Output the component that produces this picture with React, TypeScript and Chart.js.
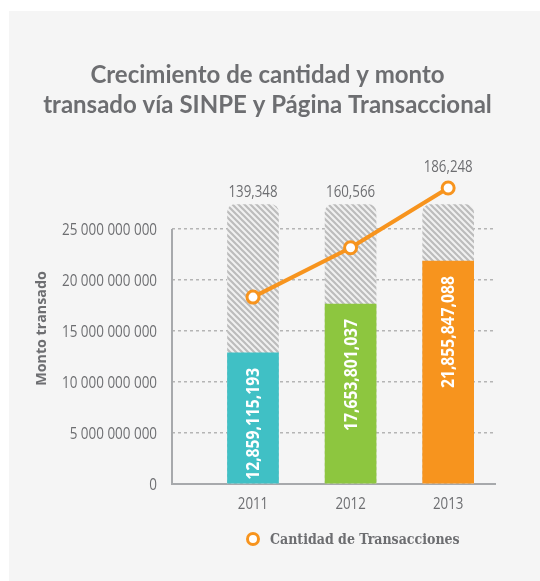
import { useEffect, useRef } from 'react';
import { Chart, registerables } from 'chart.js';

Chart.register(...registerables);

// ---- data ----
const years = [2011, 2012, 2013];
const montoTransado = [12859115193, 17653801037, 21855847088];
const cantidadTransacciones = [139348, 160566, 186248];
const fondo = [27400000000, 27400000000, 27400000000];
const yTickValues = [0, 5000000000, 10000000000, 15000000000, 20000000000, 25000000000];
const barColors = ['#40c0c5', '#8dc63f', '#f7941e'];

const titleLines = ['Crecimiento de cantidad y monto', 'transado vía SINPE y Página Transaccional'];
const yAxisTitle = 'Monto transado';
const legendLabel = 'Cantidad de Transacciones';

const GRAY = '#6d6e71';
const ORANGE = '#f7941e';
const OPEN = "'Open Sans', 'Noto Sans', sans-serif";
const TITLE_FONT = "Lato, 'Noto Sans', sans-serif";

const fmtComma = (v: number) => v.toLocaleString('en-US');
const fmtSpace = (v: number) => String(v).replace(/\B(?=(\d{3})+(?!\d))/g, ' ');

function makeHatch(): CanvasPattern | string {
  const s = 6;
  const c = document.createElement('canvas');
  c.width = s;
  c.height = s;
  const g = c.getContext('2d');
  if (!g) return '#ddd';
  g.fillStyle = '#f1f1f1';
  g.fillRect(0, 0, s, s);
  g.strokeStyle = '#bcbcbc';
  g.lineWidth = 2.2;
  g.beginPath();
  for (const k of [-s, 0, s]) {
    g.moveTo(-1, k - 1);
    g.lineTo(s + 1, k + s + 1);
  }
  g.stroke();
  const p = g.createPattern(c, 'repeat');
  return p || '#ddd';
}

type TextOpts = {
  size: number;
  weight?: string;
  color: string;
  align: CanvasTextAlign;
  baseline: CanvasTextBaseline;
  sx: number;
  rotate?: number;
};

function drawText(ctx: CanvasRenderingContext2D, text: string, x: number, y: number, o: TextOpts) {
  ctx.save();
  ctx.translate(x, y);
  if (o.rotate) ctx.rotate(o.rotate);
  ctx.scale(o.sx, 1);
  ctx.font = `${o.weight || 'normal'} ${o.size}px ${OPEN}`;
  ctx.fillStyle = o.color;
  ctx.textAlign = o.align;
  ctx.textBaseline = o.baseline;
  ctx.fillText(text, 0, 0);
  ctx.restore();
}

const overlayPlugin = {
  id: 'overlay',
  afterDatasetsDraw(chart: any) {
    const { ctx, chartArea, scales } = chart;
    const y = scales.y;
    const x = scales.x;
    ctx.save();
    // y axis line (only up to the last tick)
    ctx.strokeStyle = '#a7a9ac';
    ctx.lineWidth = 2;
    ctx.beginPath();
    ctx.moveTo(chartArea.left, y.getPixelForValue(0) + 1);
    ctx.lineTo(chartArea.left, y.getPixelForValue(yTickValues[yTickValues.length - 1]));
    ctx.stroke();
    ctx.restore();

    // y tick labels
    yTickValues.forEach((v) => {
      drawText(ctx, fmtSpace(v), chartArea.left - 15, y.getPixelForValue(v) + 1, {
        size: 16, color: GRAY, align: 'right', baseline: 'middle', sx: 0.84,
      });
    });

    // x tick labels
    years.forEach((yr) => {
      drawText(ctx, String(yr), x.getPixelForValue(yr), chartArea.bottom + 20, {
        size: 16, color: GRAY, align: 'center', baseline: 'middle', sx: 0.83,
      });
    });

    // y axis title
    drawText(ctx, yAxisTitle, 33, (chartArea.top + chartArea.bottom) / 2, {
      size: 15, weight: 'bold', color: GRAY, align: 'center', baseline: 'middle', sx: 0.95, rotate: -Math.PI / 2,
    });

    // rotated labels inside the coloured bars
    const barMeta = chart.getDatasetMeta(1);
    barMeta.data.forEach((el: any, i: number) => {
      drawText(ctx, fmtComma(montoTransado[i]), el.x + 1, el.y + 15, {
        size: 18, weight: 'bold', color: '#ffffff', align: 'right', baseline: 'middle', sx: 0.87, rotate: -Math.PI / 2,
      });
    });

    // labels for line values
    const bgMeta = chart.getDatasetMeta(0);
    const lineMeta = chart.getDatasetMeta(2);
    lineMeta.data.forEach((pt: any, i: number) => {
      const hatchTop = bgMeta.data[i].y;
      const yy = Math.min(pt.y - 21, hatchTop - 12);
      drawText(ctx, fmtComma(cantidadTransacciones[i]), pt.x, yy, {
        size: 16, color: GRAY, align: 'center', baseline: 'middle', sx: 0.83,
      });
    });
  },
};

export default function App() {
  const ref = useRef<HTMLCanvasElement | null>(null);

  useEffect(() => {
    document.body.style.margin = '0';
    const canvas = ref.current;
    if (!canvas) return;
    const hatch = makeHatch();
    const chart = new Chart(canvas, {
      type: 'bar',
      data: {
        datasets: [
          {
            type: 'bar',
            label: 'fondo',
            data: years.map((x, i) => ({ x, y: fondo[i] })),
            backgroundColor: hatch as any,
            borderWidth: 0,
            borderRadius: { topLeft: 8, topRight: 8, bottomLeft: 0, bottomRight: 0 },
            borderSkipped: false,
            barThickness: 51,
            grouped: false,
            order: 3,
            yAxisID: 'y',
          } as any,
          {
            type: 'bar',
            label: 'Monto transado',
            data: years.map((x, i) => ({ x, y: montoTransado[i] })),
            backgroundColor: barColors,
            borderWidth: 0,
            barThickness: 51,
            grouped: false,
            order: 2,
            yAxisID: 'y',
          } as any,
          {
            type: 'line',
            label: legendLabel,
            data: years.map((x, i) => ({ x, y: cantidadTransacciones[i] })),
            borderColor: ORANGE,
            borderWidth: 4,
            pointRadius: 6,
            pointBackgroundColor: '#ffffff',
            pointBorderColor: ORANGE,
            pointBorderWidth: 3,
            clip: false,
            order: 1,
            yAxisID: 'y2',
          } as any,
        ],
      },
      options: {
        animation: false,
        responsive: false,
        devicePixelRatio: 1,
        events: [],
        layout: { padding: { left: 31, right: 45, top: 0, bottom: 89 } },
        plugins: {
          legend: { display: false },
          tooltip: { enabled: false },
          title: {
            display: true,
            text: titleLines,
            color: GRAY,
            font: { family: TITLE_FONT, size: 24, weight: 'bold', lineHeight: 1.25 },
            padding: { top: 49, bottom: 53 },
          },
        },
        scales: {
          x: {
            type: 'linear',
            offset: false,
            min: 2010.17,
            max: 2013.48,
            afterBuildTicks: (s: any) => {
              s.ticks = years.map((v) => ({ value: v }));
            },
            ticks: { display: false },
            grid: { display: false },
            border: { display: true, color: '#a7a9ac', width: 2 },
          },
          y: {
            min: 0,
            max: 30500000000,
            afterBuildTicks: (s: any) => {
              s.ticks = yTickValues.map((v) => ({ value: v }));
            },
            afterFit: (s: any) => {
              s.width = 132;
            },
            ticks: { display: false },
            grid: {
              drawTicks: false,
              lineWidth: 1.5,
              color: (c: any) => (c.tick && c.tick.value === 0 ? 'rgba(0,0,0,0)' : '#b5b5b5'),
            },
            border: { display: false, dash: [3, 3] },
          },
          y2: {
            display: false,
            min: 59000,
            max: 192700,
          },
        },
      },
      plugins: [overlayPlugin],
    } as any);
    return () => chart.destroy();
  }, []);

  return (
    <div
      style={{
        position: 'absolute',
        left: 9,
        top: 11,
        width: 531,
        height: 570,
        background: '#f5f5f5',
      }}
    >
      <canvas ref={ref} width={531} height={570} style={{ display: 'block', width: 531, height: 570 }} />
      <div
        style={{
          position: 'absolute',
          left: 237,
          top: 519,
          height: 18,
          display: 'flex',
          alignItems: 'center',
          whiteSpace: 'nowrap',
        }}
      >
        <span
          style={{
            display: 'inline-block',
            width: 8,
            height: 8,
            borderRadius: '50%',
            border: `3px solid ${ORANGE}`,
            background: '#ffffff',
            marginRight: 10,
          }}
        />
        <span
          style={{
            fontFamily: "'DejaVu Serif Condensed', 'DejaVu Serif', serif",
            fontWeight: 'bold',
            fontSize: 14,
            color: GRAY,
          }}
        >
          {legendLabel}
        </span>
      </div>
    </div>
  );
}
